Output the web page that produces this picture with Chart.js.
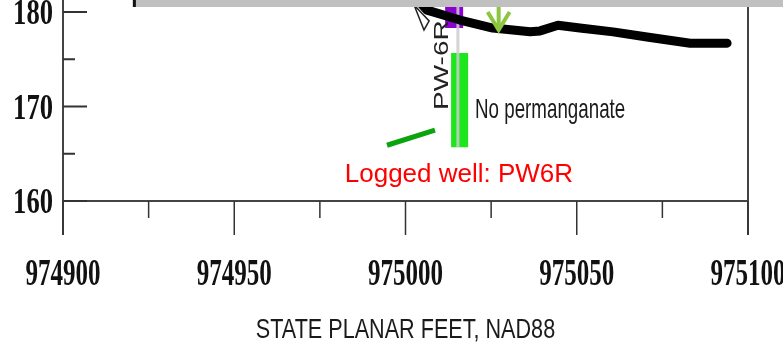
<!DOCTYPE html>
<html>
<head>
<meta charset="utf-8">
<script src="https://cdn.jsdelivr.net/npm/chart.js@4.4.1/dist/chart.umd.min.js"></script>
<style>
  html, body { margin: 0; padding: 0; background: #fff; }
  #wrap { width: 783px; height: 349px; position: relative; }
</style>
</head>
<body>
<div id="wrap"><canvas id="sectionChart"></canvas></div>
<script>
// axis ticks (state planar feet / elevation)
const xMajorTicks = [974900, 974950, 975000, 975050, 975100];
const xMinorTicks = [974925, 974975, 975025, 975075];
const yMajorTicks = [160, 170, 180];
const yMinorTicks = [165, 175];

// ground surface profile
const groundX = [975002.8, 975006.3, 975015.9, 975025.5, 975036.4, 975039.3, 975044.5, 975050.9, 975060.6, 975070.5, 975083.1, 975093.9];
const groundY = [181.6, 180.2, 179.15, 178.3, 177.9, 178.0, 178.6, 178.3, 177.9, 177.35, 176.7, 176.7];

// well PW-6R: casing line, purple interval, green screen interval
const wellX = [975015.3, 975015.3];
const wellY = [181.3, 165.7];
const purpleX = [975014.2, 975014.2];
const purpleY = [181.3, 178.3];
const screenX = [975015.8, 975015.8];
const screenY = [175.65, 165.7];

// arrow, pointer and little marker near the top
const arrowShaftX = [975027.2, 975027.2];
const arrowShaftY = [181.3, 178.1];
const arrowHeadX = [975024.0, 975027.2, 975030.4];
const arrowHeadY = [180.0, 178.1, 180.0];
const pointerX = [974994.6, 975008.6];
const pointerY = [165.9, 167.5];
const markerX = [975002.5, 975005.4, 975006.9, 975002.5];
const markerY = [180.75, 178.1, 179.05, 180.75];

const pts = (xs, ys) => xs.map((v, i) => ({ x: v, y: ys[i] }));

// text squeezed horizontally like the scanned figure
function squeezed(ctx, text, x, y, sx, font, color, align, rotate) {
    ctx.save();
    ctx.translate(x, y);
    ctx.scale(sx, 1);
    if (rotate) ctx.rotate(rotate);
    ctx.font = font;
    ctx.fillStyle = color;
    ctx.textAlign = align;
    ctx.textBaseline = 'alphabetic';
    ctx.fillText(text, 0, 0);
    ctx.restore();
}

const sectionDecor = {
    id: 'sectionDecor',
    afterDatasetsDraw(chart) {
        const { ctx, chartArea: a, scales: { x, y } } = chart;
        const tickBottom = a.bottom + 34;

        // grey box cut off at the top
        const boxLeft = x.getPixelForValue(974920.4);
        const boxBottom = y.getPixelForValue(180.53);
        ctx.save();
        ctx.fillStyle = '#c0c0c0';
        ctx.fillRect(boxLeft, 0, chart.width - boxLeft, boxBottom);
        ctx.fillStyle = '#111';
        ctx.fillRect(boxLeft, 0, 3, boxBottom);

        // frame
        ctx.strokeStyle = '#444';
        ctx.lineWidth = 2;
        ctx.beginPath();
        ctx.moveTo(a.left, 0); ctx.lineTo(a.left, tickBottom);
        ctx.moveTo(a.left, a.bottom); ctx.lineTo(a.right, a.bottom);
        ctx.moveTo(a.right, boxBottom); ctx.lineTo(a.right, tickBottom);
        ctx.stroke();

        // x ticks
        ctx.strokeStyle = '#333';
        ctx.lineWidth = 1.5;
        ctx.beginPath();
        xMajorTicks.forEach(v => {
            const px = x.getPixelForValue(v);
            ctx.moveTo(px, a.bottom); ctx.lineTo(px, tickBottom);
        });
        xMinorTicks.forEach(v => {
            const px = x.getPixelForValue(v);
            ctx.moveTo(px, a.bottom); ctx.lineTo(px, a.bottom + 17);
        });
        ctx.stroke();

        // y ticks (pointing inward)
        ctx.lineWidth = 2;
        ctx.beginPath();
        yMajorTicks.forEach(v => {
            const py = y.getPixelForValue(v);
            ctx.moveTo(a.left, py); ctx.lineTo(a.left + 24, py);
        });
        yMinorTicks.forEach(v => {
            const py = y.getPixelForValue(v);
            ctx.moveTo(a.left, py); ctx.lineTo(a.left + 12, py);
        });
        ctx.stroke();
        ctx.restore();

        // tick labels
        xMajorTicks.forEach(v => {
            squeezed(ctx, String(v), x.getPixelForValue(v), a.bottom + 84, 0.66,
                'bold 38px "Liberation Serif", "Times New Roman", serif', '#111', 'center');
        });
        yMajorTicks.forEach(v => {
            squeezed(ctx, String(v), a.left - 10, y.getPixelForValue(v) + 12, 0.76,
                'bold 35px "Liberation Serif", serif', '#111', 'right');
        });

        // axis title
        squeezed(ctx, 'STATE PLANAR FEET, NAD88', (a.left + a.right) / 2, 338, 0.8,
            '27px "Liberation Sans", Arial, sans-serif', '#1a1a1a', 'center');

        // annotations
        squeezed(ctx, 'PW-6R', x.getPixelForValue(975012.4), y.getPixelForValue(169.63), 0.75,
            '28px "Liberation Sans", Arial, sans-serif', '#222', 'left', -Math.PI / 2);
        squeezed(ctx, 'No permanganate', x.getPixelForValue(975020.3), y.getPixelForValue(168.78), 0.67,
            '28px "Liberation Sans", Arial, sans-serif', '#1a1a1a', 'left');
        squeezed(ctx, 'Logged well: PW6R', x.getPixelForValue(975015.6), y.getPixelForValue(162.0), 1,
            '26px "Liberation Sans", Arial, sans-serif', '#ff0000', 'center');
    }
};

new Chart(document.getElementById('sectionChart'), {
    type: 'line',
    data: {
        datasets: [
            { data: pts(purpleX, purpleY), borderColor: '#8c00d2', borderWidth: 18, borderCapStyle: 'butt', order: 9 },
            { data: pts(screenX, screenY), borderColor: '#1ee61e', borderWidth: 17, borderCapStyle: 'butt', order: 8 },
            { data: pts(wellX, wellY), borderColor: 'rgba(205,205,205,0.85)', borderWidth: 3, borderCapStyle: 'butt', order: 7 },
            { data: pts(markerX, markerY), borderColor: '#222', borderWidth: 1.5, order: 6 },
            { data: pts(groundX, groundY), borderColor: '#000', borderWidth: 9, borderCapStyle: 'round', borderJoinStyle: 'round', order: 5 },
            { data: pts(arrowShaftX, arrowShaftY), borderColor: '#8cc63f', borderWidth: 4, borderCapStyle: 'butt', order: 4 },
            { data: pts(arrowHeadX, arrowHeadY), borderColor: '#8cc63f', borderWidth: 4, borderJoinStyle: 'miter', order: 3 },
            { data: pts(pointerX, pointerY), borderColor: '#0ca40c', borderWidth: 5, borderCapStyle: 'butt', order: 2 }
        ]
    },
    options: {
        responsive: true,
        maintainAspectRatio: false,
        animation: false,
        layout: { padding: { left: 63, right: 35, top: 0, bottom: 148 } },
        elements: { point: { radius: 0, hoverRadius: 0 }, line: { tension: 0, fill: false } },
        scales: {
            x: { type: 'linear', min: 974900, max: 975100, display: false },
            y: { type: 'linear', min: 160, max: 181.27, display: false }
        },
        plugins: {
            legend: { display: false },
            tooltip: { enabled: false }
        }
    },
    plugins: [sectionDecor]
});
</script>
</body>
</html>
